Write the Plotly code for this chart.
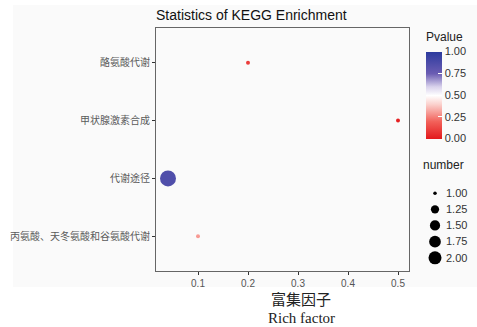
import plotly.graph_objects as go

# ---- data ----
pathways = ["酪氨酸代谢", "甲状腺激素合成", "代谢途径", "丙氨酸、天冬氨酸和谷氨酸代谢"]
rich_factor = [0.2, 0.5, 0.04, 0.1]
pvalue = [0.1, 0.02, 0.86, 0.3]
number = [1, 1, 2, 1]

x_ticks = [0.1, 0.2, 0.3, 0.4, 0.5]
p_ticks = [0.0, 0.25, 0.5, 0.75, 1.0]
size_legend = [1.00, 1.25, 1.50, 1.75, 2.00]

W, H = 477, 327
L, R, T, B = 156, 5, 28, 56
PW, PH = W - L - R, H - T - B


def px_x(px):
    return (px - L) / PW


def px_y(py):
    return (H - B - py) / PH


def marker_px(n, nmin=1.0, nmax=2.0, dmin=4.0, dmax=16.0):
    t = (n - nmin) / (nmax - nmin)
    return dmin + (dmax - dmin) * t ** 0.5


colorscale = [
    [0.0, "#E3191C"], [0.2, "#F2615A"], [0.4, "#FBD2CE"], [0.5, "#FFFFFF"],
    [0.6, "#D9D2EC"], [0.75, "#6B5DB3"], [1.0, "#2C3A9E"],
]

fig = go.Figure()

fig.add_trace(go.Scatter(
    x=rich_factor, y=pathways, mode="markers",
    marker=dict(size=[marker_px(n) for n in number],
                color=pvalue, coloraxis="coloraxis", line=dict(width=0), opacity=1),
    showlegend=False, hoverinfo="x+y",
))

# size legend drawn on its own small axis pair
fig.add_trace(go.Scatter(
    x=[0.5] * len(size_legend), y=size_legend, mode="markers",
    marker=dict(size=[marker_px(n, dmin=3.5, dmax=13) for n in size_legend], color="black",
                line=dict(width=0), opacity=1),
    xaxis="x2", yaxis="y2", showlegend=False, hoverinfo="skip",
))

fig.update_layout(
    width=W, height=H,
    margin=dict(l=L, r=R, t=T, b=B),
    paper_bgcolor="white",
    plot_bgcolor="rgba(0,0,0,0)",
    font=dict(family="Liberation Sans, Arial", color="#333333"),
    title=dict(text="Statistics of KEGG Enrichment", x=L / W,
               xanchor="left", y=1 - 15 / H, yanchor="middle",
               font=dict(size=14, color="#111111", family="Liberation Sans, Arial")),
    xaxis=dict(domain=[0, px_x(409)], range=[0.016, 0.522], tickvals=x_ticks,
               ticktext=[f"{v:g}" for v in x_ticks], ticks="outside", ticklen=3,
               tickcolor="#333333", showgrid=False, zeroline=False,
               showline=True, linecolor="#666666", linewidth=1, mirror=True,
               tickfont=dict(size=10, color="#555555")),
    yaxis=dict(type="category", categoryorder="array", categoryarray=pathways[::-1],
               range=[-0.6, 3.6], ticks="outside", ticklen=3, tickcolor="#333333",
               showgrid=False, zeroline=False, showline=True, linecolor="#666666",
               linewidth=1, mirror=True,
               tickfont=dict(size=10, color="#5a5a5a", family="Noto Sans CJK SC")),
    xaxis2=dict(domain=[px_x(425), px_x(445)], range=[0, 1], anchor="y2",
                visible=False, fixedrange=True),
    yaxis2=dict(domain=[px_y(268), px_y(182)], range=[2.108 + 0.05, 0.877 - 0.05],
                anchor="x2", side="right", tickvals=size_legend,
                ticktext=[f"{v:.2f}" for v in size_legend], ticks="", showline=False,
                showgrid=False, zeroline=False, tickfont=dict(size=11, color="#333333"),
                fixedrange=True),
    coloraxis=dict(
        cmin=0, cmax=1, colorscale=colorscale,
        colorbar=dict(
            x=px_x(426), xanchor="left", y=px_y(95), yanchor="middle",
            thickness=16, len=87, lenmode="pixels", outlinewidth=0,
            tickvals=p_ticks, ticktext=[f"{v:.2f}" for v in p_ticks],
            ticks="inside", ticklen=4, tickcolor="white",
            tickfont=dict(size=11, color="#333333"),
            ypad=0, xpad=0,
        ),
    ),
    shapes=[dict(type="rect", xref="paper", yref="paper", layer="below",
                 x0=px_x(13), x1=px_x(477), y0=px_y(287), y1=px_y(5),
                 fillcolor="#FAFAFA", line=dict(width=0))],
    annotations=[
        dict(text="Pvalue", xref="paper", yref="paper", x=px_x(424), y=px_y(37),
             xanchor="left", yanchor="middle", showarrow=False,
             font=dict(size=12, color="#222222")),
        dict(text="number", xref="paper", yref="paper", x=px_x(421), y=px_y(165),
             xanchor="left", yanchor="middle", showarrow=False,
             font=dict(size=12, color="#222222")),
        dict(text="富集因子", xref="paper", yref="paper", x=px_x(301), y=px_y(298),
             xanchor="center", yanchor="middle", showarrow=False,
             font=dict(size=15, color="#222222", family="Noto Sans CJK SC")),
        dict(text="Rich factor", xref="paper", yref="paper", x=px_x(301), y=px_y(318),
             xanchor="center", yanchor="middle", showarrow=False,
             font=dict(size=15, color="#222222", family="Liberation Serif")),
    ],
)

fig.write_html(
    "out.html",
    config={"displayModeBar": False},
    post_script="document.body.style.margin='0';document.body.style.overflow='hidden';",
)
